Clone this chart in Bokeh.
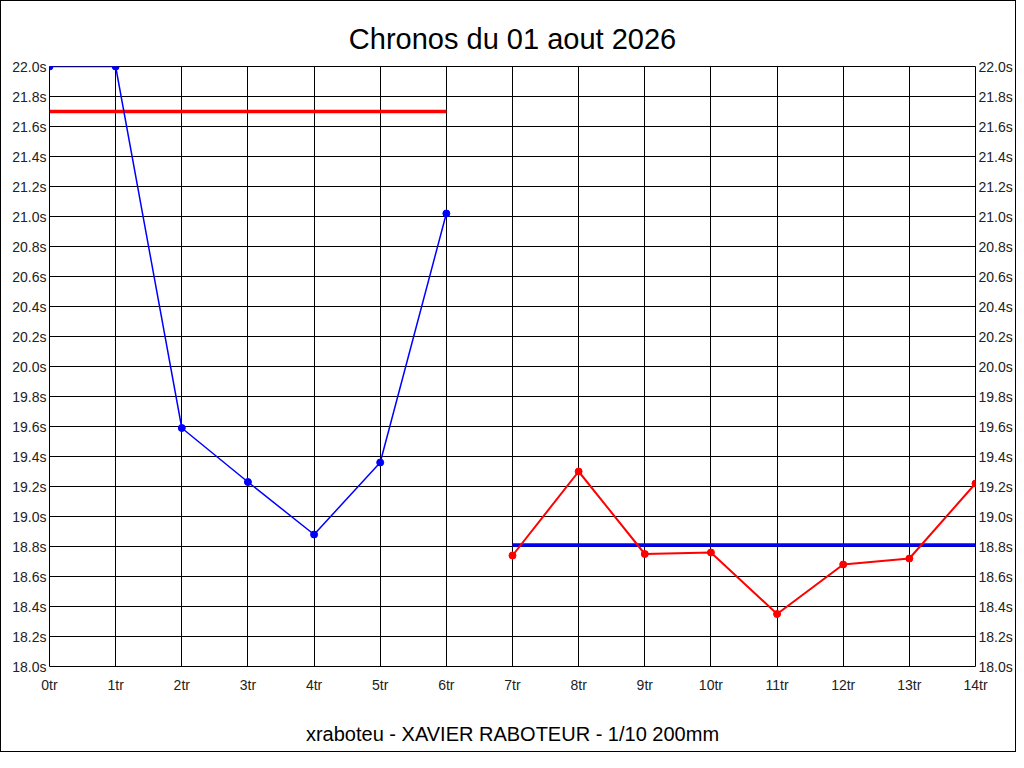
from bokeh.plotting import figure
from bokeh.models import Range1d, FixedTicker, LinearAxis
from bokeh.embed import file_html
from bokeh.resources import INLINE

# data
laps_blue = [0, 1, 2, 3, 4, 5, 6]
times_blue = [22.00, 22.00, 19.59, 19.23, 18.88, 19.36, 21.02]
laps_red = [7, 8, 9, 10, 11, 12, 13, 14]
times_red = [18.74, 19.30, 18.75, 18.76, 18.35, 18.68, 18.72, 19.22]
ref_red_x = [0, 6]
ref_red_y = [21.70, 21.70]
ref_blue_x = [7, 14]
ref_blue_y = [18.81, 18.81]

x_ticks = list(range(0, 15))
x_tick_labels = [f"{i}tr" for i in x_ticks]
y_ticks = [18.0, 18.2, 18.4, 18.6, 18.8, 19.0, 19.2, 19.4, 19.6, 19.8,
           20.0, 20.2, 20.4, 20.6, 20.8, 21.0, 21.2, 21.4, 21.6, 21.8, 22.0]
y_tick_labels = [f"{v:.1f}s" for v in y_ticks]

FONT = "Liberation Sans"

p = figure(frame_width=926, frame_height=600, output_backend="svg", toolbar_location=None,
           x_range=Range1d(0, 14), y_range=Range1d(18, 22),
           min_border_left=48, min_border_right=38, min_border_top=65,
           min_border_bottom=85,
           title="Chronos du 01 aout 2026")
p.styles = {"border": "1px solid black"}
p.background_fill_color = "white"
p.border_fill_color = "white"
p.outline_line_color = "black"
p.outline_line_width = 1

p.title.align = "center"
p.title.text_font = FONT
p.title.text_font_size = "29px"
p.title.text_font_style = "normal"
p.title.text_color = "black"
p.title.standoff = 24

p.xaxis.ticker = FixedTicker(ticks=x_ticks)
p.xaxis.major_label_overrides = dict(zip(x_ticks, x_tick_labels))
p.yaxis.ticker = FixedTicker(ticks=y_ticks)
p.yaxis.major_label_overrides = dict(zip(y_ticks, y_tick_labels))

right_axis = LinearAxis(ticker=FixedTicker(ticks=y_ticks),
                        major_label_overrides=dict(zip(y_ticks, y_tick_labels)))
p.add_layout(right_axis, "right")

for ax in p.axis:
    ax.axis_line_color = None
    ax.major_tick_line_color = None
    ax.minor_tick_line_color = None
    ax.major_tick_out = 0
    ax.major_tick_in = 0
    ax.minor_tick_out = 0
    ax.minor_tick_in = 0
    ax.major_label_text_font = FONT
    ax.major_label_text_font_size = "14px"
    ax.major_label_text_color = "#222222"
    ax.major_label_standoff = 3

p.xaxis.major_label_standoff = 10
p.xaxis.axis_label = "xraboteu - XAVIER RABOTEUR - 1/10 200mm"
p.xaxis.axis_label_text_font = FONT
p.xaxis.axis_label_text_font_size = "20px"
p.xaxis.axis_label_text_font_style = "normal"
p.xaxis.axis_label_text_color = "black"
p.xaxis.axis_label_standoff = 27

for g in (p.xgrid, p.ygrid):
    g.grid_line_color = "black"
    g.grid_line_width = 1
    g.grid_line_alpha = 1.0
p.xgrid.ticker = FixedTicker(ticks=x_ticks)
p.ygrid.ticker = FixedTicker(ticks=y_ticks)

# reference lines
p.line(ref_red_x, ref_red_y, line_color="#ff0000", line_width=3.5)
p.line(ref_blue_x, ref_blue_y, line_color="#0000ff", line_width=3.5)

# series
p.line(laps_blue, times_blue, line_color="#0000ff", line_width=1.5)
p.scatter(laps_blue, times_blue, size=7, color="#0000ff")
p.line(laps_red, times_red, line_color="#ff0000", line_width=2)
p.scatter(laps_red, times_red, size=7, color="#ff0000")

open("out.html", "w").write(file_html(p, INLINE))
